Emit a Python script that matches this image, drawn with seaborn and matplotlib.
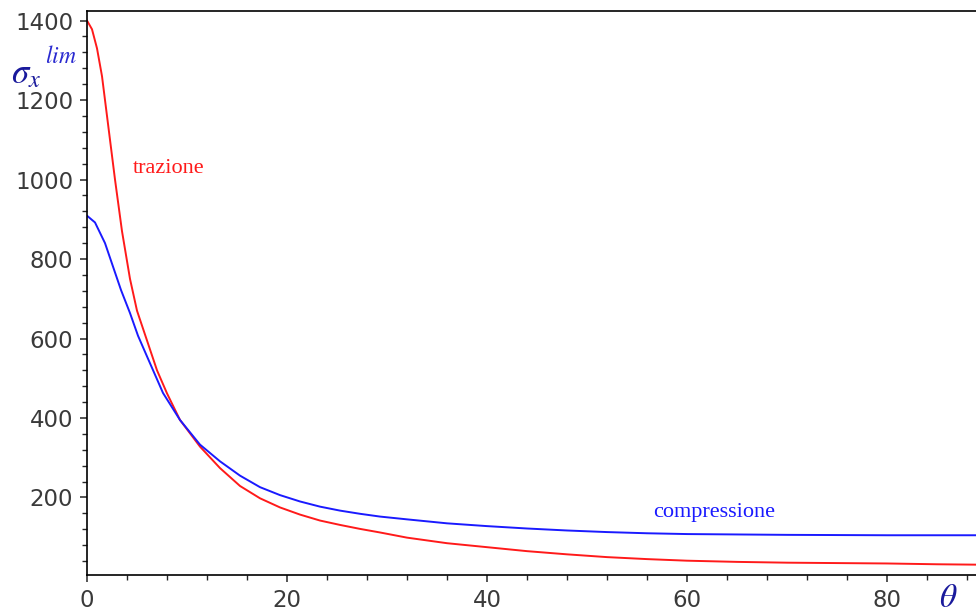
import numpy as np
import matplotlib
matplotlib.use("Agg")
import matplotlib.pyplot as plt
from matplotlib.ticker import MultipleLocator
import seaborn as sns

# Data (theta in degrees, sigma_x^lim)
theta_traz = [0, 0.5, 1.0, 1.5, 1.9, 2.4, 2.8, 3.5, 4.3, 5.0, 6.0, 7.0, 8.0, 9.3,
              11.3, 13.3, 15.3, 17.3, 19.3, 21.3, 23.3, 25.3, 27.3, 29.3,
              32.0, 36.0, 40.0, 44.0, 48.0, 52.0, 56.0, 60.0, 65.0, 70.0, 75.0,
              80.0, 85.0, 89.0]
sigma_traz = [1400, 1378, 1330, 1260, 1180, 1080, 1000, 870, 750, 670, 595, 520,
              462, 395, 328, 274, 229, 198, 175, 157, 142, 131, 121, 112,
              99, 85, 75, 65, 57, 50, 45, 41, 38, 36, 35, 34, 32, 31]

theta_comp = [0, 0.8, 1.8, 2.6, 3.4, 4.3, 5.1, 6.0, 7.6, 9.3, 11.3, 13.3, 15.3,
              17.3, 19.3, 21.3, 23.3, 25.3, 27.3, 29.3, 32.0, 36.0, 40.0,
              44.0, 48.0, 52.0, 56.0, 60.0, 65.0, 70.0, 80.0, 89.0]
sigma_comp = [909, 892, 840, 781, 722, 664, 607, 555, 463, 395, 333, 291, 255,
              226, 206, 190, 177, 167, 159, 152, 145, 135, 128, 122, 117,
              113, 110, 108, 107, 106, 105, 105]

x_ticks = [0, 20, 40, 60, 80]
y_ticks = [200, 400, 600, 800, 1000, 1200, 1400]

sns.set_style("ticks")
plt.rcParams['font.family'] = ['DejaVu Sans']
plt.rcParams['mathtext.fontset'] = 'stix'

fig = plt.figure(figsize=(9.76, 6.15), dpi=100)
ax = fig.add_axes([87 / 976, 1 - 575 / 615, 1 - 87 / 976, (575 - 11) / 615])

sns.lineplot(x=theta_traz, y=sigma_traz, ax=ax, color='#ff1a1a', linewidth=1.4)
sns.lineplot(x=theta_comp, y=sigma_comp, ax=ax, color='#1a1aff', linewidth=1.4)

ax.set_xlim(0, 88.9)
ax.set_ylim(5, 1424)
ax.set_xticks(x_ticks)
ax.set_yticks(y_ticks)
ax.xaxis.set_minor_locator(MultipleLocator(4))
ax.yaxis.set_minor_locator(MultipleLocator(40))
ax.tick_params(which='major', direction='out', length=5, width=1.1,
               labelsize=16.5, labelcolor='#3a3a3a', pad=5)
ax.tick_params(which='minor', direction='out', length=3.5, width=1.0)
for s in ['left', 'bottom', 'top']:
    ax.spines[s].set_linewidth(1.2)
    ax.spines[s].set_color('black')
ax.spines['right'].set_visible(False)
ax.set_xlabel('')
ax.set_ylabel('')

ax.text(4.6, 1017, 'trazione', color='#ff1a1a', fontsize=16,
        family='Liberation Serif')
ax.text(56.6, 151, 'compressione', color='#1a1aff', fontsize=16,
        family='Liberation Serif')

# axis labels drawn as free text like the original
fig.text(11 / 976, 1 - 83 / 615, r'$\sigma_{x}$', color='#1a1a9c', fontsize=25)
fig.text(45 / 976, 1 - 63 / 615, r'$lim$', color='#2a2ad0', fontsize=17)
fig.text(939 / 976, 1 - 607 / 615, r'$\theta$', color='#1a1a9c', fontsize=24)

fig.savefig('out.png', dpi=100)
